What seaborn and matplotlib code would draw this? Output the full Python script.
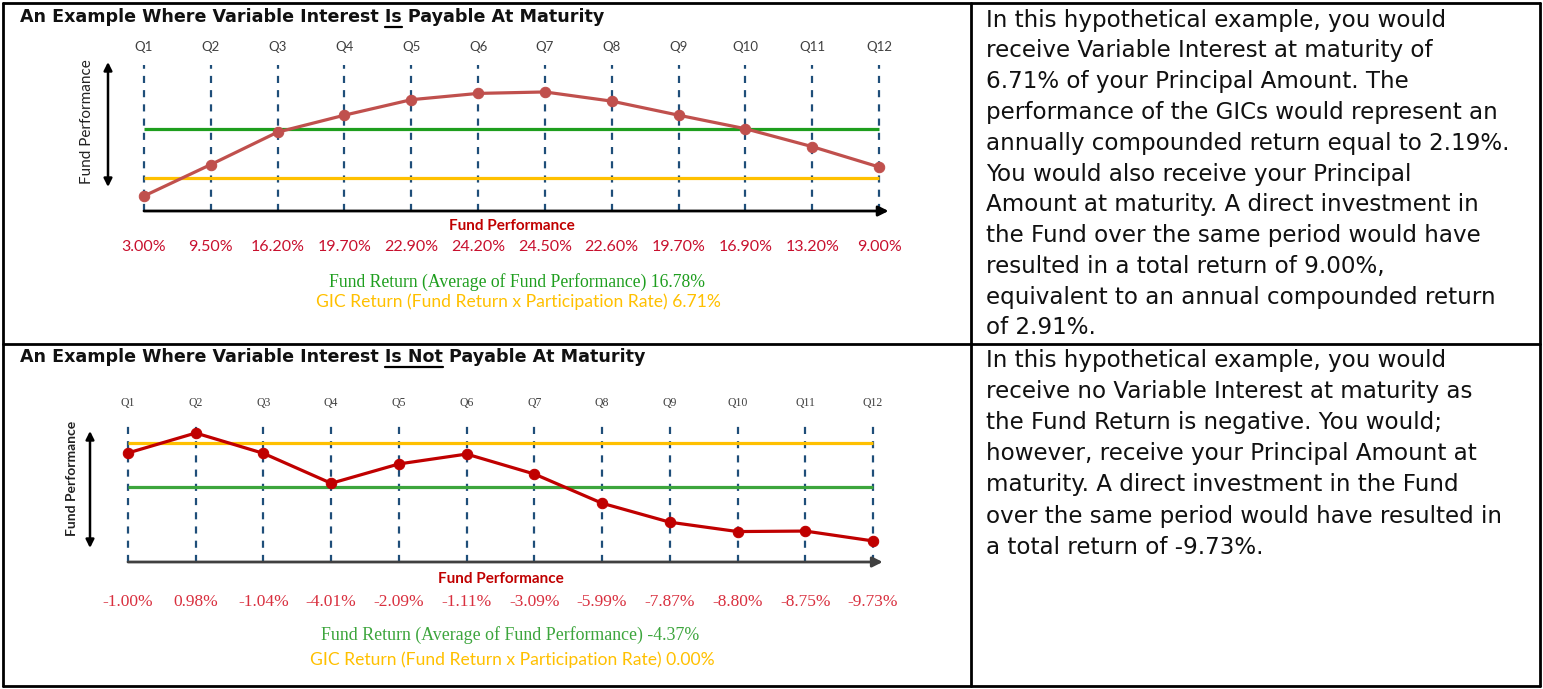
import numpy as np
import pandas as pd
import matplotlib
matplotlib.use("Agg")
import matplotlib.pyplot as plt
import seaborn as sns
from matplotlib.lines import Line2D
from matplotlib import transforms

# ---------------- data ----------------
quarters = ["Q1", "Q2", "Q3", "Q4", "Q5", "Q6", "Q7", "Q8", "Q9", "Q10", "Q11", "Q12"]
perf_payable = [3.00, 9.50, 16.20, 19.70, 22.90, 24.20, 24.50, 22.60, 19.70, 16.90, 13.20, 9.00]
fund_return_payable = 16.78
gic_return_payable = 6.71
perf_not_payable = [-1.00, 0.98, -1.04, -4.01, -2.09, -1.11, -3.09, -5.99, -7.87, -8.80, -8.75, -9.73]
fund_return_not = -4.37
gic_return_not = 0.00

title_top = ("An Example Where Variable Interest ", "Is", " Payable At Maturity")
title_bot = ("An Example Where Variable Interest ", "Is Not", " Payable At Maturity")
text_top = [
    "In this hypothetical example, you would",
    "receive Variable Interest at maturity of",
    "6.71% of your Principal Amount. The",
    "performance of the GICs would represent an",
    "annually compounded return equal to 2.19%.",
    "You would also receive your Principal",
    "Amount at maturity. A direct investment in",
    "the Fund over the same period would have",
    "resulted in a total return of 9.00%,",
    "equivalent to an annual compounded return",
    "of 2.91%.",
]
text_bot = [
    "In this hypothetical example, you would",
    "receive no Variable Interest at maturity as",
    "the Fund Return is negative. You would;",
    "however, receive your Principal Amount at",
    "maturity. A direct investment in the Fund",
    "over the same period would have resulted in",
    "a total return of -9.73%.",
]

# ---------------- style ----------------
sns.set_theme(style="white")
plt.rcParams["font.family"] = ["DejaVu Sans"]

W, H = 1543, 689
fig = plt.figure(figsize=(W / 100, H / 100), dpi=100)


def rect(x0, x1, ytop, ybot):
    return [x0 / W, 1 - ybot / H, (x1 - x0) / W, (ybot - ytop) / H]


def fx(x):
    return x / W


def fy(y):
    return 1 - y / H


# ---------------- table borders ----------------
blw = 2.0
for (x0, y0, x1, y1) in [(3, 3, 1540, 3), (3, 686, 1540, 686), (3, 3, 3, 686),
                         (1540, 3, 1540, 686), (971, 3, 971, 686), (3, 344, 1540, 344)]:
    fig.add_artist(Line2D([fx(x0), fx(x1)], [fy(y0), fy(y1)], color="black", lw=blw,
                          transform=fig.transFigure))

TITLE_SIZE = 12.6


# ---------------- titles with underline ----------------
def underlined_title(parts, x, y):
    full = "".join(parts)
    fig.text(fx(x), fy(y), full, fontsize=TITLE_SIZE, fontweight="bold", va="center", ha="left",
             color="#111111")
    r = fig.canvas.get_renderer()
    tmp1 = fig.text(0, 0, parts[0] + parts[1], fontsize=TITLE_SIZE, fontweight="bold")
    tmp2 = fig.text(0, 0, parts[1], fontsize=TITLE_SIZE, fontweight="bold")
    w1 = tmp1.get_window_extent(r).width
    w2 = tmp2.get_window_extent(r).width
    tmp1.remove()
    tmp2.remove()
    xa = x + w1 - w2
    xb = x + w1
    fig.add_artist(Line2D([fx(xa), fx(xb)], [fy(y + 10), fy(y + 10)], color="black", lw=1.6,
                          transform=fig.transFigure))


underlined_title(title_top, 20, 17)
underlined_title(title_bot, 20, 357)

# ---------------- right-hand texts ----------------
for i, line in enumerate(text_top):
    fig.text(fx(986), fy(20 + i * 30.8), line, fontsize=16.6, va="center", ha="left", color="#111111")
for i, line in enumerate(text_bot):
    fig.text(fx(986), fy(360 + i * 31.2), line, fontsize=16.6, va="center", ha="left", color="#111111")


# ---------------- chart helper ----------------
def draw_chart(ax, perf, fund_ret, gic_ret, ylim, line_color, green, yellow, pct_color,
               q_font, q_pad, pct_font, green_font, yellow_font, pct_y, fp_y, green_y, yellow_y,
               green_x, yellow_x, arrow_x, arrow_y0, arrow_y1, lab_x, lab_y, lab_weight, lab_size,
               base_color, fp_size, pct_size, green_size, yellow_size, q_size, pct_weight):
    df = pd.DataFrame({"q": np.arange(len(perf)), "perf": perf})
    ax.set_xlim(0, len(perf) - 1)
    ax.set_ylim(*ylim)
    # dashed quarter lines
    for i in range(len(perf)):
        ax.axvline(i, color="#1F4E79", lw=1.6, ls=(0, (3.2, 3.2)), zorder=1)
    # reference lines
    ax.hlines(fund_ret, 0, len(perf) - 1, color=green, lw=2.3, zorder=2)
    ax.hlines(gic_ret, 0, len(perf) - 1, color=yellow, lw=2.3, zorder=2)
    sns.lineplot(data=df, x="q", y="perf", ax=ax, color=line_color, lw=2.3, marker="o",
                 markersize=7.5, markeredgecolor=line_color, markerfacecolor=line_color, zorder=3)
    for ln in ax.lines:
        ln.set_clip_on(False)
    for c in ax.collections:
        c.set_clip_on(False)
    ax.set_xlabel("")
    ax.set_ylabel("")
    ax.set_yticks([])
    ax.set_xticks(range(len(perf)))
    ax.set_xticklabels(quarters, fontfamily=q_font, fontsize=q_size, color="#404040")
    ax.xaxis.set_ticks_position("top")
    ax.tick_params(axis="x", length=0, pad=q_pad)
    for s in ax.spines.values():
        s.set_visible(False)
    ax.patch.set_alpha(0)
    # baseline arrow
    ax.annotate("", xy=(1.013, 0), xytext=(0, 0), xycoords="axes fraction",
                arrowprops=dict(arrowstyle="-|>", color=base_color, lw=2, shrinkA=0, shrinkB=0,
                                mutation_scale=15), annotation_clip=False)
    # vertical double arrow
    ax.annotate("", xy=(arrow_x, arrow_y1), xytext=(arrow_x, arrow_y0), xycoords="axes fraction",
                arrowprops=dict(arrowstyle="<|-|>", color="black", lw=1.8, shrinkA=0, shrinkB=0,
                                mutation_scale=12), annotation_clip=False)
    ax.text(lab_x, lab_y, "Fund Performance", transform=ax.transAxes, rotation=90, ha="center",
            va="center", fontsize=lab_size, fontfamily="Lato", fontweight=lab_weight, color="#222222")
    # labels below
    trans = transforms.blended_transform_factory(ax.transData, ax.transAxes)
    ax.text(0.5, fp_y, "Fund Performance", transform=ax.transAxes, ha="center", va="center",
            fontsize=fp_size, fontweight="bold", fontfamily="Lato", color="#C00000")
    for i, v in enumerate(perf):
        ax.text(i, pct_y, f"{v:.2f}%", transform=trans, ha="center", va="center",
                fontsize=pct_size, fontfamily=pct_font, color=pct_color, fontweight=pct_weight)
    ax.text(green_x, green_y, f"Fund Return (Average of Fund Performance) {fund_ret:.2f}%",
            transform=ax.transAxes, ha="center", va="center", fontsize=green_size,
            fontfamily=green_font, color=green)
    ax.text(yellow_x, yellow_y, f"GIC Return (Fund Return x Participation Rate) {gic_ret:.2f}%",
            transform=ax.transAxes, ha="center", va="center", fontsize=yellow_size,
            fontfamily=yellow_font, color="#FFC000")


# top chart
ax1 = fig.add_axes(rect(144, 879, 65, 211))
draw_chart(ax1, perf_payable, fund_return_payable, gic_return_payable, (-0.1, 30.07),
           line_color="#C0504D", green="#1E9E1E", yellow="#FFC000", pct_color="#C8102E",
           q_font="Lato", q_pad=9, pct_font="Lato", green_font="Liberation Serif",
           yellow_font="Lato",
           pct_y=(211 - 247) / 146, fp_y=(211 - 226) / 146, green_y=(211 - 282) / 146,
           yellow_y=(211 - 302) / 146, green_x=(517 - 144) / 735, yellow_x=(518 - 144) / 735,
           arrow_x=(108 - 144) / 735, arrow_y0=(211 - 187) / 146, arrow_y1=(211 - 62) / 146,
           lab_x=(87 - 144) / 735, lab_y=(211 - 122) / 146, lab_weight="normal", lab_size=11,
           base_color="black", fp_size=11, pct_size=11.5, green_size=12.7, yellow_size=12.6,
           q_size=9.5, pct_weight="normal")

# bottom chart
ax2 = fig.add_axes(rect(128, 873, 420, 562))
draw_chart(ax2, perf_not_payable, fund_return_not, gic_return_not, (-11.82, 2.27),
           line_color="#C00000", green="#3CA53C", yellow="#FFC000", pct_color="#D9303F",
           q_font="Liberation Serif", q_pad=8, pct_font="Liberation Serif",
           green_font="Liberation Serif", yellow_font="Lato",
           pct_y=(562 - 602) / 142, fp_y=(562 - 579) / 142, green_y=(562 - 635) / 142,
           yellow_y=(562 - 660) / 142, green_x=(510 - 128) / 745, yellow_x=(512 - 128) / 745,
           arrow_x=(90 - 128) / 745, arrow_y0=(562 - 548) / 142, arrow_y1=(562 - 431) / 142,
           lab_x=(72 - 128) / 745, lab_y=(562 - 478) / 142, lab_weight="bold", lab_size=10,
           base_color="#404040", fp_size=11, pct_size=12.5, green_size=12.9, yellow_size=12.6,
           q_size=8.5, pct_weight="normal")

fig.savefig("out.png", dpi=100)
